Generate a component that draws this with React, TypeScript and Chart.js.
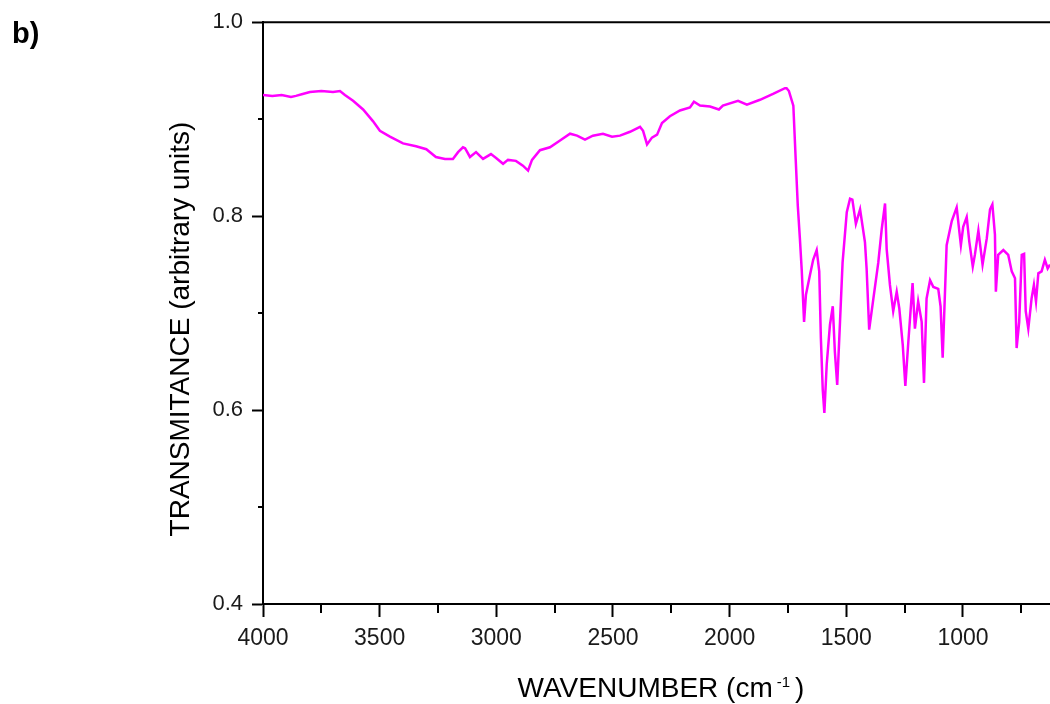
import React, { useEffect, useRef } from "react";
import { Chart, registerables } from "chart.js";

Chart.register(...registerables);

// ---- Data ----
const wavenumbers = [
  4000, 3960, 3920, 3880, 3859, 3830, 3799, 3750, 3700, 3670, 3649, 3614, 3571, 3529, 3499,
  3456, 3400, 3344, 3300, 3259, 3220, 3186, 3164, 3143, 3134, 3113, 3087, 3057, 3023, 3001,
  2971, 2950, 2916, 2886, 2864, 2847, 2813, 2770, 2727, 2684, 2654, 2620, 2586, 2543, 2504,
  2470, 2427, 2384, 2371, 2354, 2333, 2311, 2290, 2256, 2213, 2170, 2153, 2127, 2084, 2046,
  2029, 1964, 1926, 1870, 1814, 1763, 1756, 1746, 1727, 1717, 1708, 1699, 1691, 1681, 1673,
  1656, 1642, 1627, 1616, 1609, 1601, 1594, 1584, 1570, 1558, 1549, 1539, 1527, 1516, 1498,
  1484, 1474, 1459, 1441, 1420, 1413, 1402, 1384, 1363, 1348, 1334, 1327, 1313, 1299, 1284,
  1273, 1258, 1247, 1234, 1216, 1206, 1192, 1177, 1167, 1156, 1141, 1127, 1106, 1096, 1087,
  1070, 1048, 1027, 1009, 999, 984, 973, 958, 949, 934, 916, 898, 884, 874, 863,
  859, 849, 827, 806, 791, 777, 770, 759, 748, 738, 731, 720, 706, 696, 687,
  677, 663, 649, 637, 627,
];
const transmittance = [
  0.925, 0.924, 0.925, 0.923, 0.924, 0.926, 0.928, 0.929, 0.928, 0.929, 0.925, 0.919, 0.910, 0.898, 0.888,
  0.882, 0.875, 0.872, 0.869, 0.861, 0.859, 0.859, 0.866, 0.871, 0.870, 0.861, 0.866, 0.859, 0.864, 0.860,
  0.854, 0.858, 0.857, 0.852, 0.847, 0.858, 0.868, 0.871, 0.878, 0.885, 0.883, 0.879, 0.883, 0.885, 0.882,
  0.883, 0.887, 0.892, 0.888, 0.874, 0.881, 0.884, 0.896, 0.903, 0.909, 0.912, 0.918, 0.914, 0.913, 0.910,
  0.914, 0.919, 0.915, 0.920, 0.926, 0.932, 0.932, 0.929, 0.914, 0.859, 0.811, 0.777, 0.744, 0.691, 0.719,
  0.739, 0.755, 0.765, 0.743, 0.674, 0.621, 0.597, 0.647, 0.688, 0.707, 0.660, 0.626, 0.691, 0.752, 0.804,
  0.818, 0.817, 0.792, 0.807, 0.773, 0.746, 0.683, 0.715, 0.752, 0.787, 0.813, 0.766, 0.729, 0.702, 0.722,
  0.705, 0.667, 0.625, 0.671, 0.731, 0.684, 0.712, 0.691, 0.628, 0.715, 0.734, 0.727, 0.725, 0.707, 0.654,
  0.770, 0.795, 0.809, 0.770, 0.789, 0.799, 0.774, 0.748, 0.760, 0.785, 0.750, 0.777, 0.807, 0.812, 0.781,
  0.722, 0.760, 0.765, 0.760, 0.743, 0.736, 0.664, 0.691, 0.760, 0.761, 0.702, 0.684, 0.715, 0.729, 0.712,
  0.741, 0.743, 0.755, 0.746, 0.750,
];

const xMajorTicks = [4000, 3500, 3000, 2500, 2000, 1500, 1000];
const xMinorTicks = [3750, 3250, 2750, 2250, 1750, 1250, 750];
const yMajorTicks = [0.4, 0.6, 0.8, 1.0];
const yMinorTicks = [0.5, 0.7, 0.9];

const panelLabel = "b)";
const yTitle = "TRANSMITANCE (arbitrary units)";
const xTitleMain = "WAVENUMBER (cm";
const xTitleSup = "-1";
const xTitleEnd = ")";

const FONT = '"Liberation Sans", Arial, sans-serif';

const decorPlugin = {
  id: "decor",
  afterDraw(chart: any) {
    const { ctx, chartArea, scales } = chart;
    const xs = scales.x;
    const ys = scales.y;
    ctx.save();
    ctx.strokeStyle = "#000";
    ctx.lineWidth = 2;
    // top frame line
    ctx.beginPath();
    ctx.moveTo(chartArea.left - 1, chartArea.top);
    ctx.lineTo(chartArea.right, chartArea.top);
    ctx.stroke();
    // minor ticks
    xMinorTicks.forEach((v) => {
      const px = Math.round(xs.getPixelForValue(v));
      ctx.beginPath();
      ctx.moveTo(px, chartArea.bottom);
      ctx.lineTo(px, chartArea.bottom + 9);
      ctx.stroke();
    });
    yMinorTicks.forEach((v) => {
      const py = Math.round(ys.getPixelForValue(v));
      ctx.beginPath();
      ctx.moveTo(chartArea.left, py);
      ctx.lineTo(chartArea.left - 5, py);
      ctx.stroke();
    });

    // panel label
    ctx.fillStyle = "#000";
    ctx.font = `bold 29px ${FONT}`;
    ctx.textAlign = "left";
    ctx.textBaseline = "alphabetic";
    ctx.fillText(panelLabel, 12, 43);

    // y title
    ctx.save();
    ctx.translate(181, 329);
    ctx.rotate(-Math.PI / 2);
    ctx.font = `28px ${FONT}`;
    ctx.textAlign = "center";
    ctx.textBaseline = "middle";
    ctx.fillText(yTitle, 0, 0);
    ctx.restore();

    // x title with superscript
    ctx.font = `28px ${FONT}`;
    const w1 = ctx.measureText(xTitleMain).width;
    const w3 = ctx.measureText(xTitleEnd).width;
    ctx.font = `15px ${FONT}`;
    const w2 = ctx.measureText(xTitleSup).width;
    const gapA = 4;
    const gapB = 5;
    const total = w1 + gapA + w2 + gapB + w3;
    let sx = 661 - total / 2;
    const base = 697;
    ctx.textAlign = "left";
    ctx.textBaseline = "alphabetic";
    ctx.font = `28px ${FONT}`;
    ctx.fillText(xTitleMain, sx, base);
    sx += w1 + gapA;
    ctx.font = `15px ${FONT}`;
    ctx.fillText(xTitleSup, sx, base - 10);
    sx += w2 + gapB;
    ctx.font = `28px ${FONT}`;
    ctx.fillText(xTitleEnd, sx, base);
    ctx.restore();
  },
};

export default function App() {
  const ref = useRef<HTMLCanvasElement>(null);

  useEffect(() => {
    const canvas = ref.current;
    if (!canvas) return;
    const points = wavenumbers.map((w, i) => ({ x: w, y: transmittance[i] }));
    const chart = new Chart(canvas, {
      type: "line",
      data: {
        datasets: [
          {
            data: points,
            borderColor: "#FF00FF",
            borderWidth: 2.5,
            pointRadius: 0,
            tension: 0,
            fill: false,
          },
        ],
      },
      options: {
        animation: false,
        responsive: false,
        devicePixelRatio: 1,
        layout: { padding: { top: 19, left: 0, right: 0, bottom: 0 } },
        plugins: { legend: { display: false }, tooltip: { enabled: false } },
        scales: {
          x: {
            type: "linear",
            reverse: true,
            min: 627,
            max: 4000,
            afterBuildTicks: (scale: any) => {
              scale.ticks = xMajorTicks.map((v) => ({ value: v }));
            },
            afterFit: (scale: any) => {
              scale.height = 100;
            },
            ticks: {
              font: { family: FONT, size: 23 },
              color: "#1a1a1a",
              padding: 8,
              maxRotation: 0,
              callback: (v: any) => String(v),
            },
            grid: {
              display: true,
              drawOnChartArea: false,
              drawTicks: true,
              tickLength: 13,
              tickWidth: 2,
              tickColor: "#000",
            },
            border: { display: true, color: "#000", width: 2 },
          },
          y: {
            type: "linear",
            min: 0.4,
            max: 1.0,
            afterBuildTicks: (scale: any) => {
              scale.ticks = yMajorTicks.map((v) => ({ value: v }));
            },
            afterFit: (scale: any) => {
              scale.width = 263;
            },
            ticks: {
              font: { family: FONT, size: 22 },
              color: "#1a1a1a",
              padding: 9,
              callback: (v: any) => Number(v).toFixed(1),
            },
            grid: {
              display: true,
              drawOnChartArea: false,
              drawTicks: true,
              tickLength: 11,
              tickWidth: 2,
              tickColor: "#000",
            },
            border: { display: true, color: "#000", width: 2 },
          },
        },
      },
      plugins: [decorPlugin],
    });
    return () => chart.destroy();
  }, []);

  return (
    <div style={{ position: "absolute", left: 0, top: 0, width: 1050, height: 704, background: "#fff" }}>
      <canvas ref={ref} width={1050} height={704} style={{ display: "block", width: 1050, height: 704 }} />
    </div>
  );
}
